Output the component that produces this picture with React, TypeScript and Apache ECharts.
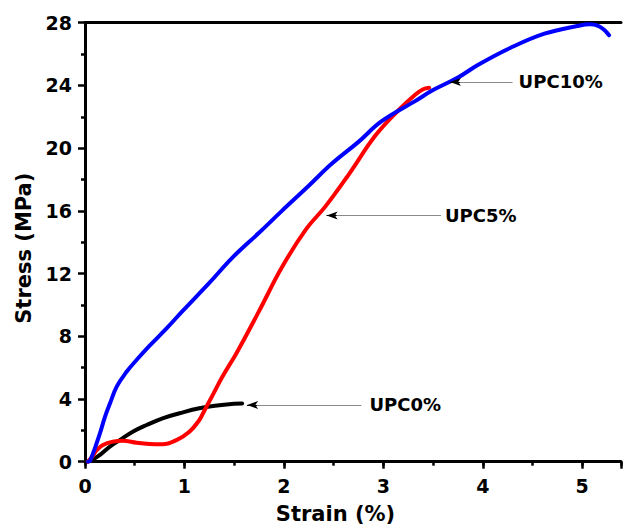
import React, { useEffect, useRef } from "react";
import * as echarts from "echarts";

const xTicks = [0, 1, 2, 3, 4, 5];
const xMax = 5.39;
const yTicks = [0, 4, 8, 12, 16, 20, 24, 28];

const upc0X = [0.03, 0.08, 0.15, 0.25, 0.35, 0.48, 0.62, 0.78, 0.95, 1.15, 1.35, 1.5, 1.58];
const upc0Y = [0, 0.15, 0.43, 0.96, 1.38, 1.91, 2.34, 2.77, 3.09, 3.41, 3.6, 3.7, 3.72];

const upc5X = [0.03, 0.07, 0.12, 0.18, 0.28, 0.38, 0.52, 0.65, 0.78, 0.92, 1.05, 1.15, 1.2, 1.28, 1.38, 1.53, 1.75, 1.98, 2.22, 2.42, 2.65, 2.92, 3.15, 3.32, 3.4, 3.46];
const upc5Y = [0, 0.3, 0.75, 1.07, 1.28, 1.34, 1.21, 1.13, 1.11, 1.38, 1.91, 2.66, 3.25, 4.2, 5.4, 7.0, 9.6, 12.4, 14.8, 16.3, 18.3, 20.8, 22.4, 23.4, 23.75, 23.85];

const upc10X = [0.03, 0.05, 0.1, 0.15, 0.2, 0.25, 0.32, 0.42, 0.52, 0.65, 0.82, 0.98, 1.25, 1.48, 1.75, 1.98, 2.25, 2.48, 2.75, 2.98, 3.32, 3.5, 3.75, 3.95, 4.28, 4.62, 4.95, 5.08, 5.16, 5.22, 5.27];
const upc10Y = [0, 0.05, 0.87, 1.8, 2.85, 3.7, 4.8, 5.75, 6.5, 7.4, 8.5, 9.6, 11.4, 13.0, 14.6, 16.0, 17.6, 19.0, 20.4, 21.7, 23.0, 23.7, 24.5, 25.3, 26.4, 27.3, 27.79, 27.9, 27.8, 27.55, 27.2];

const labels = ["UPC0%", "UPC5%", "UPC10%"];
const annotX0 = [2.78, 3.58, 4.3];
const annotTip = [1.63, 2.43, 3.67];
const annotY = [3.62, 15.7, 24.22];
const annotDist = [8, 4, 6];

const FONT = "DejaVu Sans";

function pairs(xs: number[], ys: number[]) {
  return xs.map((x, i) => [x, ys[i]]);
}

function markFor(i: number) {
  return {
    silent: true,
    animation: false,
    symbol: ["none", "none"],
    data: [
      [
        {
          coord: [annotX0[i], annotY[i]],
          symbol: "none",
          lineStyle: { color: "#8a8a8a", width: 1, type: "solid" },
          label: {
            show: true,
            position: "start",
            formatter: labels[i],
            distance: annotDist[i],
            color: "#000",
            fontFamily: FONT,
            fontWeight: "bold",
            fontSize: 18,
          },
        },
        { coord: [annotTip[i], annotY[i]], symbol: "none" },
      ],
      [
        {
          coord: [annotTip[i] + 0.1, annotY[i]],
          symbol: "none",
          lineStyle: { color: "#000", width: 1, type: "solid" },
          label: { show: false },
        },
        { coord: [annotTip[i], annotY[i]], symbol: "arrow", symbolSize: [6, 11] },
      ],
    ],
  };
}

export default function App() {
  const ref = useRef<HTMLDivElement>(null);
  useEffect(() => {
    if (!ref.current) return;
    const chart = echarts.init(ref.current, null, { renderer: "svg" });
    const axisLabelStyle = {
      color: "#000",
      fontFamily: FONT,
      fontWeight: "bold",
      fontSize: 19,
    };
    chart.setOption({
      animation: false,
      backgroundColor: "#ffffff",
      grid: { left: 85, right: 0, top: 22.7, bottom: 68.3, containLabel: false },
      xAxis: [
        {
          type: "value",
          min: xTicks[0],
          max: xMax,
          interval: 1,
          position: "bottom",
          axisLine: { onZero: false, lineStyle: { color: "#000", width: 3 } },
          axisTick: { show: true, length: 7, lineStyle: { color: "#000", width: 2.5 } },
          minorTick: { show: false },
          splitLine: { show: false },
          axisLabel: {
            ...axisLabelStyle,
            margin: 15,
            formatter: (v: number) => (xTicks.includes(v) ? String(v) : ""),
          },
          name: "Strain (%)",
          nameLocation: "middle",
          nameGap: 42,
          nameTextStyle: { ...axisLabelStyle, fontSize: 21, padding: [0, 35, 0, 0] },
          z: 3,
        },
        {
          type: "value",
          min: 0,
          max: xMax,
          position: "top",
          axisLine: { show: true, onZero: false, lineStyle: { color: "#000", width: 3 } },
          axisTick: { show: false },
          axisLabel: { show: false },
          splitLine: { show: false },
        },
        {
          type: "value",
          min: 0,
          max: xMax,
          interval: 0.5,
          position: "bottom",
          axisLine: { show: false, onZero: false },
          axisTick: { show: true, length: 4, lineStyle: { color: "#000", width: 2.5 } },
          axisLabel: { show: false },
          splitLine: { show: false },
        },
      ],
      yAxis: {
        type: "value",
        min: yTicks[0],
        max: yTicks[yTicks.length - 1],
        interval: 4,
        axisLine: { show: true, onZero: false, lineStyle: { color: "#000", width: 3 } },
        axisTick: { show: true, length: 7, lineStyle: { color: "#000", width: 2.5 } },
        minorTick: { show: true, splitNumber: 2, length: 4, lineStyle: { color: "#000", width: 2.5 } },
        splitLine: { show: false },
        axisLabel: { ...axisLabelStyle, margin: 13 },
        name: "Stress (MPa)",
        nameLocation: "middle",
        nameGap: 51,
        nameTextStyle: { ...axisLabelStyle, fontSize: 21, padding: [0, 12, 0, 0] },
      },
      series: [
        {
          name: "UPC0%",
          type: "line",
          xAxisIndex: 0,
          data: pairs(upc0X, upc0Y),
          showSymbol: false,
          smooth: 0.4,
          lineStyle: { color: "#000000", width: 4, cap: "round" },
          itemStyle: { color: "#000000" },
          markLine: markFor(0),
          z: 2,
        },
        {
          name: "UPC5%",
          type: "line",
          xAxisIndex: 0,
          data: pairs(upc5X, upc5Y),
          showSymbol: false,
          smooth: 0.4,
          lineStyle: { color: "#ff0000", width: 4, cap: "round" },
          itemStyle: { color: "#ff0000" },
          markLine: markFor(1),
          z: 3,
        },
        {
          name: "UPC10%",
          type: "line",
          xAxisIndex: 0,
          data: pairs(upc10X, upc10Y),
          showSymbol: false,
          smooth: 0.4,
          lineStyle: { color: "#0000ff", width: 4, cap: "round" },
          itemStyle: { color: "#0000ff" },
          markLine: markFor(2),
          z: 4,
        },
      ],
    });
    return () => chart.dispose();
  }, []);
  return (
    <div
      ref={ref}
      style={{ position: "fixed", left: 0, top: 0, width: 624, height: 530, background: "#fff" }}
    />
  );
}
